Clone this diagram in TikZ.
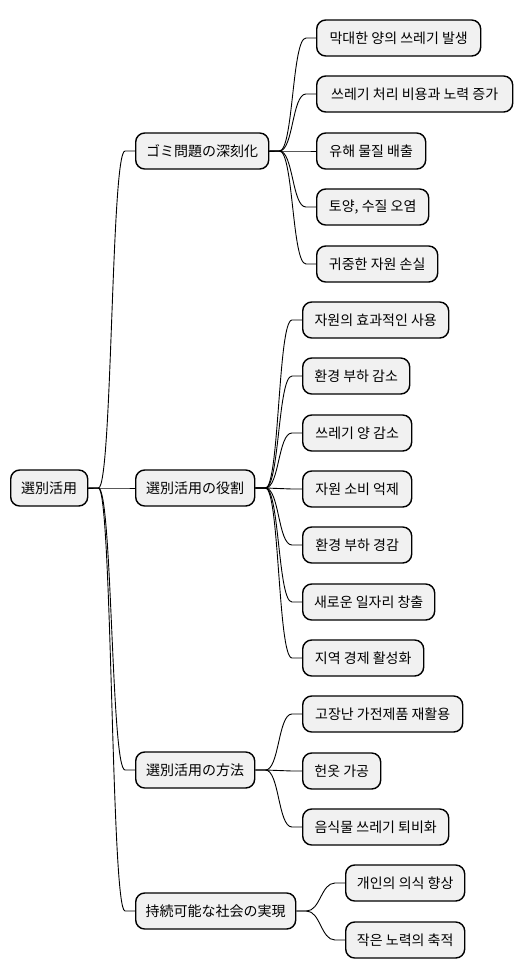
\documentclass[tikz,border=0pt]{standalone}
\usepackage{fontspec}
\setmainfont{Noto Sans CJK KR}
\newfontfamily\jpfont{Noto Sans CJK JP}
\definecolor{ideafill}{HTML}{F1F1F1}

% branch from a parent idea to one child idea
\newcommand\branch[2]{%
  \draw[link] (#1.east) -- ++(10,0)
    .. controls +(14,0) and +(-14,0) .. ([xshift=-10pt]#2.west) -- (#2.west);}

\begin{document}
\begin{tikzpicture}[
    x=1pt, y=-1pt,
    every node/.style={font=\fontsize{14}{16}\selectfont, align=center},
    idea/.style={rectangle, draw=black, line width=1.4pt, fill=ideafill,
      rounded corners=9pt, minimum height=36pt, inner xsep=8pt, inner ysep=0pt, anchor=west},
    jp/.style={font=\jpfont\fontsize{14}{16}\selectfont},
    link/.style={draw=black, line width=0.9pt}
]
\useasboundingbox (0,0) rectangle (521,978);

\node[idea, jp, minimum width=77pt]  (root) at (10, 488) {選別活用};

\node[idea, jp, minimum width=133pt] (g1) at (135, 151) {ゴミ問題の深刻化};
\node[idea, jp, minimum width=119pt] (g2) at (135, 488) {選別活用の役割};
\node[idea, jp, minimum width=119pt] (g3) at (135, 770) {選別活用の方法};
\node[idea, jp, minimum width=160pt] (g4) at (135, 911) {持続可能な社会の実現};

% problems
\node[idea, minimum width=164pt] (a1) at (316, 38)  {막대한 양의 쓰레기 발생};
\node[idea, minimum width=196pt] (a2) at (316, 94)  {쓰레기 처리 비용과 노력 증가};
\node[idea, minimum width=109pt] (a3) at (316, 151) {유해 물질 배출};
\node[idea, minimum width=112pt] (a4) at (316, 207) {토양, 수질 오염};
\node[idea, minimum width=121pt] (a5) at (316, 264) {귀중한 자원 손실};

% roles
\node[idea, minimum width=146pt] (b1) at (302, 320) {자원의 효과적인 사용};
\node[idea, minimum width=107pt] (b2) at (302, 376) {환경 부하 감소};
\node[idea, minimum width=109pt] (b3) at (302, 433) {쓰레기 양 감소};
\node[idea, minimum width=109pt] (b4) at (302, 489) {자원 소비 억제};
\node[idea, minimum width=109pt] (b5) at (302, 545) {환경 부하 경감};
\node[idea, minimum width=132pt] (b6) at (302, 602) {새로운 일자리 창출};
\node[idea, minimum width=121pt] (b7) at (302, 658) {지역 경제 활성화};

% methods
\node[idea, minimum width=160pt] (c1) at (302, 714) {고장난 가전제품 재활용};
\node[idea, minimum width=78pt]  (c2) at (302, 771) {헌옷 가공};
\node[idea, minimum width=146pt] (c3) at (302, 827) {음식물 쓰레기 퇴비화};

% sustainable society
\node[idea, minimum width=119pt] (d1) at (345, 883) {개인의 의식 향상};
\node[idea, minimum width=119pt] (d2) at (345, 940) {작은 노력의 축적};

\foreach \g in {g1,g2,g3,g4} \branch{root}{\g};
\foreach \leaf in {a1,a2,a3,a4,a5} \branch{g1}{\leaf};
\foreach \leaf in {b1,b2,b3,b4,b5,b6,b7} \branch{g2}{\leaf};
\foreach \leaf in {c1,c2,c3} \branch{g3}{\leaf};
\foreach \leaf in {d1,d2} \branch{g4}{\leaf};
\end{tikzpicture}
\end{document}
